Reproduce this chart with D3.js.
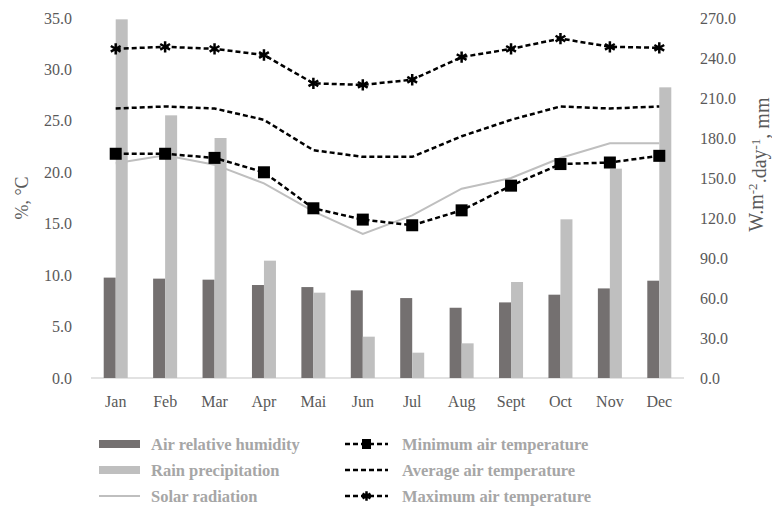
<!DOCTYPE html>
<head>
<meta charset="utf-8">
<title>Climate chart</title>
<style>
    body { margin: 0; background: white; }
    text { font-family: "Liberation Serif", "DejaVu Serif", serif; }
    .axis text { fill: #595959; font-size: 16px; }
    .axis path, .axis line { stroke: none; }
    .base { stroke: #d9d9d9; stroke-width: 1.5px; }
    .legend text { fill: #a6a6a6; font-size: 16.5px; font-weight: bold; }
    .temp { fill: none; stroke: #000; stroke-width: 2.5px; stroke-dasharray: 5,3; }
    .solar { fill: none; stroke: #bfbfbf; stroke-width: 2px; }
</style>
</head>
<body>
<svg width="772" height="508"></svg>
<script src="https://cdn.jsdelivr.net/npm/d3@7"></script>
<script>

var months = ["Jan", "Feb", "Mar", "Apr", "Mai", "Jun", "Jul", "Aug", "Sept", "Oct", "Nov", "Dec"];
var humidity = [9.76, 9.66, 9.56, 9.04, 8.84, 8.52, 7.77, 6.83, 7.35, 8.10, 8.71, 9.46];
var rain = [269, 197, 180, 88, 64, 31, 19, 26, 72, 119, 157, 218];
var solar = [161, 167, 160, 146, 125, 108, 122, 142, 150, 165, 176, 176];
var tMin = [21.8, 21.8, 21.4, 20.0, 16.5, 15.4, 14.85, 16.3, 18.7, 20.8, 20.95, 21.6];
var tAvg = [26.2, 26.4, 26.2, 25.1, 22.15, 21.5, 21.5, 23.5, 25.1, 26.4, 26.2, 26.4];
var tMax = [32.0, 32.2, 32.0, 31.4, 28.65, 28.5, 29.0, 31.2, 32.0, 33.0, 32.2, 32.1];
var leftTicks = [0, 5, 10, 15, 20, 25, 30, 35];
var rightTicks = [0, 30, 60, 90, 120, 150, 180, 210, 240, 270];

var svg = d3.select("svg");

var margin = {top: 18, right: 88, bottom: 130, left: 91},
    width = 772 - margin.left - margin.right,
    height = 508 - margin.top - margin.bottom;

var g = svg.append("g")
    .attr("transform", "translate(" + margin.left + "," + margin.top + ")");

var x = d3.scaleBand().domain(months).range([0, width]);
var yL = d3.scaleLinear().domain([0, 35]).range([height, 0]);
var yR = d3.scaleLinear().domain([0, 270]).range([height, 0]);

var barW = 12;

// axes
g.append("g")
    .attr("class", "axis")
    .call(d3.axisLeft(yL).tickValues(leftTicks).tickFormat(d3.format(".1f")).tickSize(0).tickPadding(19));

g.append("g")
    .attr("class", "axis")
    .attr("transform", "translate(" + width + ",0)")
    .call(d3.axisRight(yR).tickValues(rightTicks).tickFormat(d3.format(".1f")).tickSize(0).tickPadding(16));

g.append("g")
    .attr("class", "axis")
    .attr("transform", "translate(0," + height + ")")
    .call(d3.axisBottom(x).tickSize(0).tickPadding(18));

g.append("line")
    .attr("class", "base")
    .attr("x1", 0).attr("x2", width)
    .attr("y1", height).attr("y2", height);

// bars
g.selectAll(".hum")
    .data(humidity)
    .enter().append("rect")
    .attr("class", "hum")
    .attr("x", function (d, i) { return x(months[i]) + x.bandwidth() / 2 - barW; })
    .attr("y", function (d) { return yL(d); })
    .attr("width", barW)
    .attr("height", function (d) { return height - yL(d); })
    .attr("fill", "#747070");

g.selectAll(".rain")
    .data(rain)
    .enter().append("rect")
    .attr("class", "rain")
    .attr("x", function (d, i) { return x(months[i]) + x.bandwidth() / 2; })
    .attr("y", function (d) { return yR(d); })
    .attr("width", barW)
    .attr("height", function (d) { return height - yR(d); })
    .attr("fill", "#bfbfbf");

function cx(d, i) { return x(months[i]) + x.bandwidth() / 2; }

// solar radiation
g.append("path")
    .attr("class", "solar")
    .attr("d", d3.line().x(cx).y(function (d) { return yR(d); })(solar));

// temperatures
[tMin, tAvg, tMax].forEach(function (s) {
    g.append("path")
        .attr("class", "temp")
        .attr("d", d3.line().x(cx).y(function (d) { return yL(d); })(s));
});

g.selectAll(".minPt")
    .data(tMin)
    .enter().append("rect")
    .attr("class", "minPt")
    .attr("x", function (d, i) { return cx(d, i) - 6; })
    .attr("y", function (d) { return yL(d) - 6; })
    .attr("width", 12).attr("height", 12)
    .attr("fill", "#000");

var star = d3.symbol().type(d3.symbolAsterisk).size(90);
g.selectAll(".maxPt")
    .data(tMax)
    .enter().append("path")
    .attr("class", "maxPt")
    .attr("transform", function (d, i) { return "translate(" + cx(d, i) + "," + yL(d) + ")"; })
    .attr("d", star)
    .attr("fill", "none")
    .attr("stroke", "#000")
    .attr("stroke-width", 2.5);

// axis titles
svg.append("text")
    .attr("transform", "translate(28," + (margin.top + yL(17.5)) + ") rotate(-90)")
    .attr("text-anchor", "middle")
    .attr("fill", "#595959")
    .style("font-size", "18px")
    .text("%, °C");

var rt = svg.append("text")
    .attr("transform", "translate(763," + (margin.top + yR(160)) + ") rotate(-90)")
    .attr("text-anchor", "middle")
    .attr("fill", "#595959")
    .style("font-size", "20px");
rt.append("tspan").text("W.m");
rt.append("tspan").attr("dy", "-0.45em").style("font-size", "13px").text("-2");
rt.append("tspan").attr("dy", "0.45em").text(".day");
rt.append("tspan").attr("dy", "-0.45em").style("font-size", "13px").text("-1");
rt.append("tspan").attr("dy", "0.45em").text(", mm");

// legend
var legend = svg.append("g").attr("class", "legend");

var leftItems = ["Air relative humidity", "Rain precipitation", "Solar radiation"];
var rightItems = ["Minimum air temperature", "Average air temperature", "Maximum air temperature"];
var rowY = [444, 470, 496];

leftItems.forEach(function (t, i) {
    var row = legend.append("g").attr("transform", "translate(99," + rowY[i] + ")");
    if (i < 2) {
        row.append("rect").attr("x", 0).attr("y", -4).attr("width", 41).attr("height", 8)
            .attr("fill", i === 0 ? "#747070" : "#bfbfbf");
    } else {
        row.append("line").attr("x1", 0).attr("x2", 41).attr("y1", 0).attr("y2", 0)
            .attr("stroke", "#bfbfbf").attr("stroke-width", 2);
    }
    row.append("text").attr("x", 52).attr("dy", "0.35em").text(t);
});

rightItems.forEach(function (t, i) {
    var row = legend.append("g").attr("transform", "translate(345," + rowY[i] + ")");
    row.append("line").attr("x1", 0).attr("x2", 43).attr("y1", 0).attr("y2", 0)
        .attr("class", "temp").attr("stroke-dasharray", "3,2");
    if (i === 0) {
        row.append("rect").attr("x", 17).attr("y", -5).attr("width", 9).attr("height", 10).attr("fill", "#000");
    } else if (i === 2) {
        row.append("path").attr("transform", "translate(21.5,0)")
            .attr("d", d3.symbol().type(d3.symbolAsterisk).size(60))
            .attr("fill", "none").attr("stroke", "#000").attr("stroke-width", 2.5);
    }
    row.append("text").attr("x", 57).attr("dy", "0.35em").text(t);
});

</script>
</body>
